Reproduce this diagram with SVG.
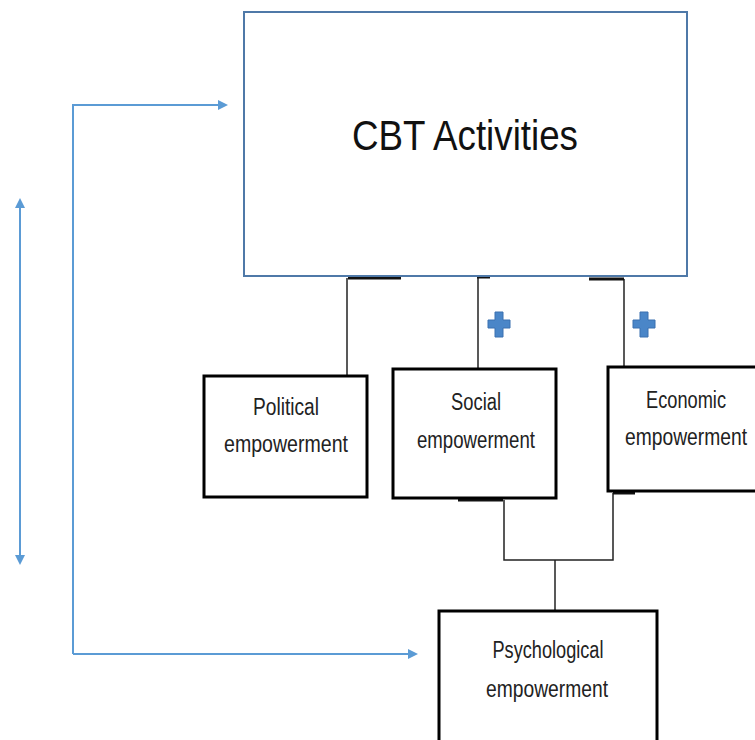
<svg xmlns="http://www.w3.org/2000/svg" width="755" height="740" viewBox="0 0 755 740">
<style>
.box{fill:#fff;stroke:#000;stroke-width:3}
.main{fill:#fff;stroke:#4f79a8;stroke-width:2}
.t{font-family:"Liberation Sans",Arial,sans-serif;font-size:23px;fill:#222;text-anchor:middle}
.big{font-family:"Liberation Sans",Arial,sans-serif;font-size:43px;fill:#111;text-anchor:middle}
.ln{stroke:#222;stroke-width:1.5;fill:none}
.tick{stroke:#111;stroke-width:3;fill:none}
.blue{stroke:#5b9bd5;stroke-width:2;fill:none}
.plus{fill:#4a86c8;stroke:#3a70b0;stroke-width:1}
</style>
<defs>
<marker id="ah" markerWidth="10" markerHeight="10" refX="8" refY="5" orient="auto-start-reverse" markerUnits="userSpaceOnUse">
<path d="M0,0 L10,5 L0,10 Z" fill="#5b9bd5"/>
</marker>
</defs>
<rect width="755" height="740" fill="#fff"/>
<g id="connectors">
<path class="ln" d="M347,278 V376" stroke="#888"/>
<path class="tick" d="M348,278 H401"/>
<path class="ln" d="M478,277 V369"/>
<path class="tick" d="M477,277 H490" stroke-width="2"/>
<path class="ln" d="M624,279 V367"/>
<path class="tick" d="M589,279 H624"/>
<path class="ln" d="M504,500 V560 H613 V493"/>
<path class="tick" d="M458,500 H503"/>
<path class="tick" d="M613,493 H635"/>
<path class="ln" d="M555,560 V611"/>
<path class="blue" d="M73,654 V105 H226" marker-end="url(#ah)"/>
<path class="blue" d="M73,654 H416" marker-end="url(#ah)"/>
<path class="blue" d="M20,200 V563" marker-start="url(#ah)" marker-end="url(#ah)"/>
</g>
<g id="cbt">
<rect class="main" x="244" y="12" width="443" height="264"/>
<text class="big" x="465" y="150" textLength="226" lengthAdjust="spacingAndGlyphs">CBT Activities</text>
</g>
<g id="plus1">
<path class="plus" d="M495,312 h8 v8 h7 v8 h-7 v9 h-8 v-9 h-7 v-8 h7 Z"/>
</g>
<g id="plus2">
<path class="plus" d="M640,312 h8 v8 h7 v8 h-7 v9 h-8 v-9 h-7 v-8 h7 Z"/>
</g>
<g id="political">
<rect class="box" x="204" y="376" width="163" height="121"/>
<text class="t" x="286" y="415" textLength="66" lengthAdjust="spacingAndGlyphs">Political</text>
<text class="t" x="286" y="452" textLength="124" lengthAdjust="spacingAndGlyphs">empowerment</text>
</g>
<g id="social">
<rect class="box" x="393" y="369" width="163" height="129"/>
<text class="t" x="476" y="410" textLength="50" lengthAdjust="spacingAndGlyphs">Social</text>
<text class="t" x="476" y="448" textLength="118" lengthAdjust="spacingAndGlyphs">empowerment</text>
</g>
<g id="economic">
<rect class="box" x="608" y="367" width="160" height="124"/>
<text class="t" x="686" y="408" textLength="80" lengthAdjust="spacingAndGlyphs">Economic</text>
<text class="t" x="686" y="445" textLength="122" lengthAdjust="spacingAndGlyphs">empowerment</text>
</g>
<g id="psychological">
<rect class="box" x="439" y="611" width="218" height="140"/>
<text class="t" x="548" y="658" textLength="111" lengthAdjust="spacingAndGlyphs">Psychological</text>
<text class="t" x="547" y="697" textLength="122" lengthAdjust="spacingAndGlyphs">empowerment</text>
</g>
</svg>
